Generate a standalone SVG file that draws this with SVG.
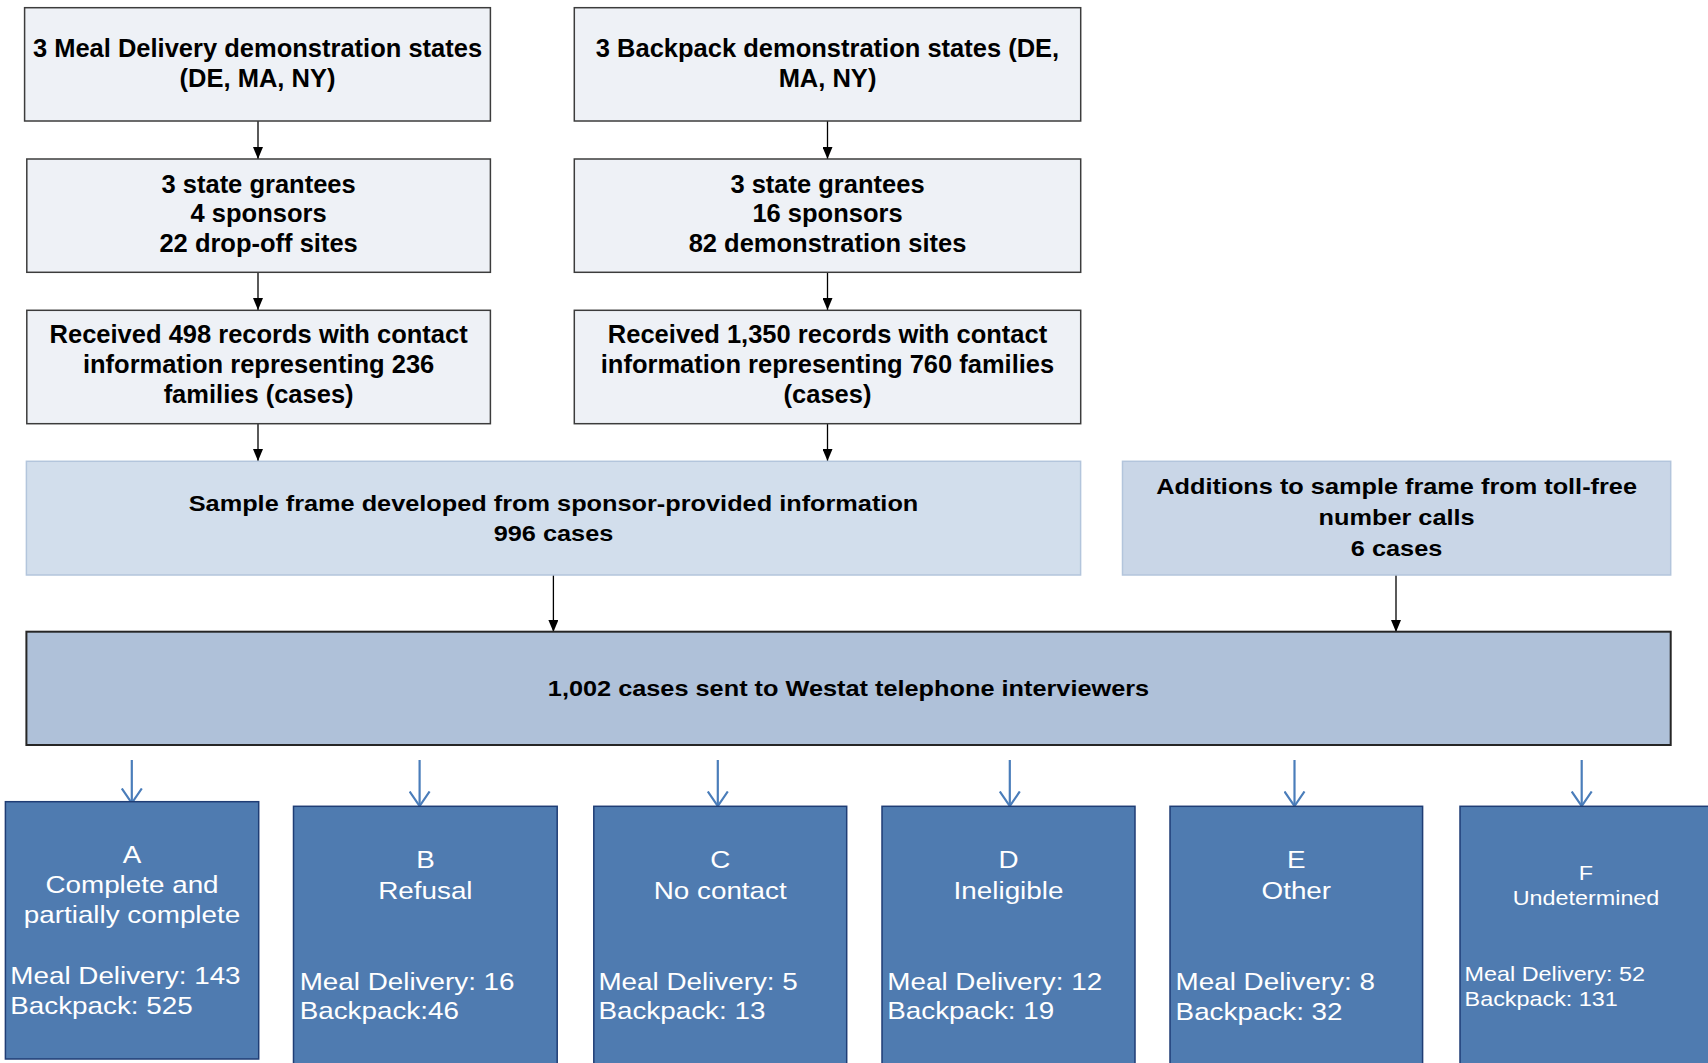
<svg xmlns="http://www.w3.org/2000/svg" width="1708" height="1063" viewBox="0 0 1708 1063">
<defs>
<style>
.top{fill:#EEF1F6;stroke:#3C3C3C;stroke-width:1.5}
.frame{fill:#D2DEEC;stroke:#B3C5DC;stroke-width:1.5}
.add{fill:#C9D6E7;stroke:#B3C5DC;stroke-width:1.5}
.big{fill:#AFC1D9;stroke:#262626;stroke-width:2}
.res{fill:#4F7BB0;stroke:#1F3D75;stroke-width:1.5}
.tb{font-family:"Liberation Sans",Arial,sans-serif;font-weight:bold;font-size:25px;fill:#000;text-anchor:middle}
.tm{font-family:"Liberation Sans",Arial,sans-serif;font-weight:bold;font-size:22.2px;fill:#000;text-anchor:middle}
.tw{font-family:"Liberation Sans",Arial,sans-serif;font-size:24.4px;fill:#fff}
.tws{font-family:"Liberation Sans",Arial,sans-serif;font-size:20.5px;fill:#fff}
.c{text-anchor:middle}
.blk{stroke:#000;stroke-width:1.3;fill:none;marker-end:url(#ah)}
.blu{stroke:#4A7DBA;stroke-width:2.2;fill:none;marker-end:url(#av)}
</style>
<marker id="ah" viewBox="0 0 12 10" refX="12" refY="5" markerWidth="12" markerHeight="10" markerUnits="userSpaceOnUse" orient="auto">
<path d="M0,0 L12,5 L0,10 z" fill="#000"/>
</marker>
<marker id="av" viewBox="0 0 17 22" refX="15.5" refY="11" markerWidth="17" markerHeight="22" markerUnits="userSpaceOnUse" orient="auto">
<path d="M1,1 L15.5,11 L1,21" fill="none" stroke="#4A7DBA" stroke-width="2.2"/>
</marker>
</defs>

<g id="connectors">
<line class="blk" x1="258" y1="121" x2="258" y2="159"/>
<line class="blk" x1="258" y1="272" x2="258" y2="310"/>
<line class="blk" x1="258" y1="424" x2="258" y2="461"/>
<line class="blk" x1="827.5" y1="121" x2="827.5" y2="159"/>
<line class="blk" x1="827.5" y1="272" x2="827.5" y2="310"/>
<line class="blk" x1="827.5" y1="424" x2="827.5" y2="461"/>
<line class="blk" x1="553.4" y1="575" x2="553.4" y2="632"/>
<line class="blk" x1="1396" y1="575" x2="1396" y2="632"/>
<line class="blu" x1="131.8" y1="760" x2="131.8" y2="803"/>
<line class="blu" x1="419.6" y1="760" x2="419.6" y2="806"/>
<line class="blu" x1="717.8" y1="760" x2="717.8" y2="806"/>
<line class="blu" x1="1009.8" y1="760" x2="1009.8" y2="806"/>
<line class="blu" x1="1294.5" y1="760" x2="1294.5" y2="806"/>
<line class="blu" x1="1581.7" y1="760" x2="1581.7" y2="806"/>
</g>

<g id="md-states">
<rect class="top" x="24.6" y="7.7" width="465.8" height="113.3"/>
<text class="tb" transform="translate(257.5 57.3) scale(1.02 1)"><tspan x="0" y="0">3 Meal Delivery demonstration states</tspan><tspan x="0" y="30">(DE, MA, NY)</tspan></text>
</g>
<g id="md-grantees">
<rect class="top" x="26.8" y="159" width="463.6" height="113.3"/>
<text class="tb" transform="translate(258.6 192.7) scale(1.02 1)"><tspan x="0" y="0">3 state grantees</tspan><tspan x="0" y="29.5">4 sponsors</tspan><tspan x="0" y="59.5">22 drop-off sites</tspan></text>
</g>
<g id="md-records">
<rect class="top" x="26.8" y="310.3" width="463.6" height="113.4"/>
<text class="tb" transform="translate(258.6 343.3) scale(1.02 1)"><tspan x="0" y="0">Received 498 records with contact</tspan><tspan x="0" y="29.5">information representing 236</tspan><tspan x="0" y="60">families (cases)</tspan></text>
</g>

<g id="bp-states">
<rect class="top" x="574.3" y="7.7" width="506.4" height="113.3"/>
<text class="tb" transform="translate(827.5 57.3) scale(1.02 1)"><tspan x="0" y="0">3 Backpack demonstration states (DE,</tspan><tspan x="0" y="30">MA, NY)</tspan></text>
</g>
<g id="bp-grantees">
<rect class="top" x="574.3" y="159" width="506.4" height="113.3"/>
<text class="tb" transform="translate(827.5 192.7) scale(1.02 1)"><tspan x="0" y="0">3 state grantees</tspan><tspan x="0" y="29.5">16 sponsors</tspan><tspan x="0" y="59.5">82 demonstration sites</tspan></text>
</g>
<g id="bp-records">
<rect class="top" x="574.3" y="310.3" width="506.4" height="113.4"/>
<text class="tb" transform="translate(827.5 343.3) scale(1.02 1)"><tspan x="0" y="0">Received 1,350 records with contact</tspan><tspan x="0" y="29.5">information representing 760 families</tspan><tspan x="0" y="60">(cases)</tspan></text>
</g>

<g id="sample-frame">
<rect class="frame" x="26.4" y="461.3" width="1054.2" height="113.7"/>
<text class="tm" transform="translate(553.5 510.7) scale(1.14 1)"><tspan x="0" y="0">Sample frame developed from sponsor-provided information</tspan><tspan x="0" y="30">996 cases</tspan></text>
</g>
<g id="additions">
<rect class="add" x="1122.5" y="461.3" width="548.2" height="113.7"/>
<text class="tm" transform="translate(1396.6 494.3) scale(1.14 1)"><tspan x="0" y="0">Additions to sample frame from toll-free</tspan><tspan x="0" y="31">number calls</tspan><tspan x="0" y="61.4">6 cases</tspan></text>
</g>
<g id="sent">
<rect class="big" x="26.4" y="631.7" width="1644.3" height="113.3"/>
<text class="tm" transform="translate(848.5 696) scale(1.14 1)"><tspan x="0" y="0">1,002 cases sent to Westat telephone interviewers</tspan></text>
</g>

<g id="result-a">
<rect class="res" x="5.4" y="801.7" width="253.3" height="257.3"/>
<text class="tw c" transform="translate(132 862.7) scale(1.14 1)"><tspan x="0" y="0">A</tspan><tspan x="0" y="30.6">Complete and</tspan><tspan x="0" y="60">partially complete</tspan></text>
<text class="tw" transform="translate(10.3 984) scale(1.14 1)"><tspan x="0" y="0">Meal Delivery: 143</tspan><tspan x="0" y="30">Backpack: 525</tspan></text>
</g>
<g id="result-b">
<rect class="res" x="293.5" y="806.3" width="263.7" height="264"/>
<text class="tw c" transform="translate(425.4 868.3) scale(1.14 1)"><tspan x="0" y="0">B</tspan><tspan x="0" y="31">Refusal</tspan></text>
<text class="tw" transform="translate(299.7 990) scale(1.14 1)"><tspan x="0" y="0">Meal Delivery: 16</tspan><tspan x="0" y="29.3">Backpack:46</tspan></text>
</g>
<g id="result-c">
<rect class="res" x="593.8" y="806.3" width="252.9" height="264"/>
<text class="tw c" transform="translate(720.2 868.3) scale(1.14 1)"><tspan x="0" y="0">C</tspan><tspan x="0" y="31">No contact</tspan></text>
<text class="tw" transform="translate(598.4 990) scale(1.14 1)"><tspan x="0" y="0">Meal Delivery: 5</tspan><tspan x="0" y="29.3">Backpack: 13</tspan></text>
</g>
<g id="result-d">
<rect class="res" x="882" y="806.3" width="253" height="264"/>
<text class="tw c" transform="translate(1008.5 868.3) scale(1.14 1)"><tspan x="0" y="0">D</tspan><tspan x="0" y="31">Ineligible</tspan></text>
<text class="tw" transform="translate(887.3 990) scale(1.14 1)"><tspan x="0" y="0">Meal Delivery: 12</tspan><tspan x="0" y="29.3">Backpack: 19</tspan></text>
</g>
<g id="result-e">
<rect class="res" x="1170" y="806.3" width="252.6" height="264"/>
<text class="tw c" transform="translate(1296.3 868.3) scale(1.14 1)"><tspan x="0" y="0">E</tspan><tspan x="0" y="31">Other</tspan></text>
<text class="tw" transform="translate(1175.6 990) scale(1.14 1)"><tspan x="0" y="0">Meal Delivery: 8</tspan><tspan x="0" y="30">Backpack: 32</tspan></text>
</g>
<g id="result-f">
<rect class="res" x="1460" y="806.3" width="254" height="264"/>
<text class="tws c" transform="translate(1586 880) scale(1.14 1)"><tspan x="0" y="0">F</tspan><tspan x="0" y="25">Undetermined</tspan></text>
<text class="tws" transform="translate(1464.6 980.7) scale(1.14 1)"><tspan x="0" y="0">Meal Delivery: 52</tspan><tspan x="0" y="25.3">Backpack: 131</tspan></text>
</g>
</svg>
